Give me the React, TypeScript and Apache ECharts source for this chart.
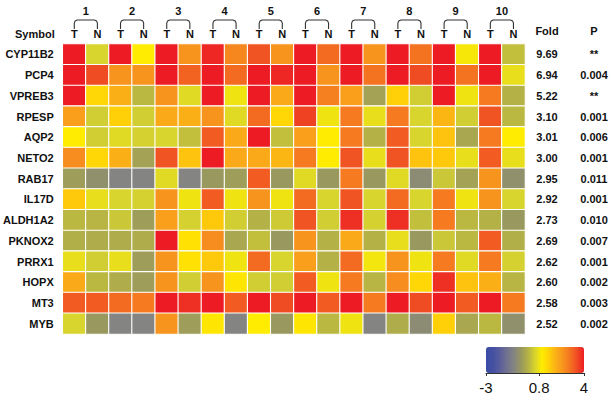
import React, { useEffect, useRef } from "react";
import * as echarts from "echarts";

const genes = ["CYP11B2", "PCP4", "VPREB3", "RPESP", "AQP2", "NETO2", "RAB17", "IL17D", "ALDH1A2", "PKNOX2", "PRRX1", "HOPX", "MT3", "MYB"];
const sampleLabels = ["T", "N", "T", "N", "T", "N", "T", "N", "T", "N", "T", "N", "T", "N", "T", "N", "T", "N", "T", "N"];
const pairLabels = ["1", "2", "3", "4", "5", "6", "7", "8", "9", "10"];
const foldValues = ["9.69", "6.94", "5.22", "3.10", "3.01", "3.00", "2.95", "2.92", "2.73", "2.69", "2.62", "2.60", "2.58", "2.52"];
const pValues = ["**", "0.004", "**", "0.001", "0.006", "0.001", "0.011", "0.001", "0.010", "0.007", "0.001", "0.002", "0.003", "0.002"];
const scaleTicks = [-3, 0.8, 4];

const cyp11b2 = [4, 0.5, 4, 1.0, 4, 2.5, 3.9, 2.7, 3.4, 2.5, 4, 3.1, 4, 2.5, 4, 3.0, 4, 0.9, 4, 0.2];
const pcp4 = [4, 3.5, 2.5, 2.5, 4, 3.2, 4, 3.1, 4, 3.9, 4, 2.5, 4, 3.0, 4, 3.5, 4, 3.0, 4, 0.7];
const vpreb3 = [4, 1.4, 2.0, 0.1, 2.5, 0.6, 4, 0.8, 4, 2.1, 4, 2.8, 2.3, -0.3, 1.5, 0.4, 4, 0.8, 2.9, 0.0];
const rpesp = [2.3, 0.4, 1.5, 0.4, 2.1, 2.0, 2.5, 0.6, 3.1, 1.4, 3.6, 0.8, 2.9, 0.7, 2.9, 0.5, 1.9, 0.4, 3.4, 0.1];
const aqp2 = [1.0, 0.4, 0.6, 0.45, 0.5, 0.2, 3.3, 2.1, 4, 0.2, 2.3, 1.0, 2.9, 0.0, 3.3, 0.5, 1.7, -0.2, 2.9, 1.0];
const neto2 = [2.6, 1.4, 2.0, -0.3, 3.4, 1.7, 4, 2.1, 2.1, 1.9, 2.9, 1.0, 3.4, 0.7, 3.4, 1.7, 1.6, 0.7, 3.3, 0.7];
const rab17 = [-0.4, -0.7, -1, -1, 0.6, -1, -0.5, -0.4, 3.3, -0.5, 0.6, -0.5, 2.9, -0.5, 0.6, -0.8, 0.3, -0.3, 2.5, -0.7];
const il17d = [1.6, 0.7, 0.5, 0.45, 2.5, 0.8, 3.3, 0.8, 2.5, 0.8, 3.1, 0.5, 3.4, 0.5, 3.1, 0.5, 2.9, 0.8, 2.5, 0.5];
const aldh1a2 = [0.1, 0.05, 0.3, -0.4, 2.3, 0.45, 1.6, 0.4, 0.0, 0.35, 3.4, 0.4, 3.8, 0.45, 3.8, 0.2, 2.9, 0.1, 0.0, -0.5];
const pknox2 = [-0.05, -0.1, -0.1, -0.1, 4, 1.2, 2.6, -0.2, 0.2, -0.5, 2.5, 0.0, 2.1, 0.0, 0.7, -0.5, 0.3, 0.1, 3.3, -0.05];
const prrx1 = [0.7, 0.4, 0.7, -0.4, 2.5, 1.2, 1.6, 0.8, 3.1, 0.5, 2.3, 0.0, 3.1, 0.85, 2.5, 0.8, 2.9, 0.6, 2.9, 0.45];
const hopx = [2.1, 0.1, -0.1, -0.4, 2.5, 0.4, 2.5, 1.1, 0.4, 0.4, 3.3, 0.8, 2.9, 0.05, 2.6, 1.4, 3.8, 1.7, 2.0, 0.05];
const mt3 = [3.3, 3.3, 3.1, 2.9, 4, 3.8, 4, 3.3, 4, 3.5, 4, 3.3, 4, 2.9, 4, 3.5, 4, 3.3, 4, 2.9];
const myb = [0.5, -0.5, -1, -1, 2.5, -0.4, 1.1, -1, 1.0, -0.5, 1.1, 0.1, 0.8, -1, -0.1, -0.8, 1.5, -0.2, 0.1, -0.7];

const matrix = [cyp11b2, pcp4, vpreb3, rpesp, aqp2, neto2, rab17, il17d, aldh1a2, pknox2, prrx1, hopx, mt3, myb];

const palette = [
  "#3A4BA6", "#4450A2", "#5A5E9C", "#727390", "#848482", "#99985E", "#B4B146", "#D8D52E",
  "#FFEC00", "#FFD008", "#FBAF17", "#F7941D", "#F47321", "#F04C23", "#ED1C24",
];

const FONT = "'Liberation Sans', Arial, sans-serif";
const TXT = "#111";

export default function App() {
  const ref = useRef<HTMLDivElement>(null);
  useEffect(() => {
    if (!ref.current) return;
    const chart = echarts.init(ref.current, null, { renderer: "svg" });
    const data: number[][] = [];
    matrix.forEach((row, r) => row.forEach((v, c) => data.push([c, r, v])));
    const bold = { fontFamily: FONT, fontWeight: "bold" as const, fontSize: 11, color: TXT };
    chart.setOption({
      animation: false,
      backgroundColor: "#fff",
      grid: [
        { left: 62, top: 44, width: 463, height: 290 },
        { left: 486, top: 347, width: 98, height: 26 },
      ],
      xAxis: [
        {
          type: "category", data: sampleLabels, position: "top", gridIndex: 0,
          axisLine: { show: false }, axisTick: { show: false },
          axisLabel: { ...bold, margin: 5, interval: 0 },
        },
        {
          type: "category", data: pairLabels, position: "top", gridIndex: 0, offset: 24,
          axisLine: { show: false }, axisTick: { show: false },
          axisLabel: { ...bold, margin: 4, interval: 0 },
        },
        {
          type: "value", gridIndex: 1, min: -3, max: 4, position: "bottom",
          splitLine: { show: false },
          axisLine: { show: true, lineStyle: { color: "#333", width: 1 } },
          axisTick: { show: true, length: 3, customValues: scaleTicks, lineStyle: { color: "#333" } },
          axisLabel: { customValues: scaleTicks, fontFamily: FONT, fontSize: 15, color: TXT, margin: 7, showMinLabel: true, showMaxLabel: true },
        },
      ],
      yAxis: [
        {
          type: "category", data: genes, inverse: true, gridIndex: 0,
          axisLine: { show: false }, axisTick: { show: false },
          axisLabel: { ...bold, margin: 9, interval: 0 },
        },
        {
          type: "category", data: foldValues, inverse: true, gridIndex: 0, position: "right",
          axisLine: { show: false }, axisTick: { show: false },
          axisLabel: { ...bold, margin: 22, align: "center", interval: 0 },
        },
        {
          type: "category", data: pValues, inverse: true, gridIndex: 0, position: "right",
          axisLine: { show: false }, axisTick: { show: false },
          axisLabel: { ...bold, margin: 69, align: "center", interval: 0 },
        },
        { type: "value", gridIndex: 1, show: false, min: 0, max: 1 },
      ],
      visualMap: {
        type: "continuous", min: -3, max: 4, dimension: 2, seriesIndex: 0,
        orient: "horizontal", calculable: false, hoverLink: false,
        left: 486, top: 347, padding: 0, itemWidth: 26, itemHeight: 98,
        text: ["", ""], showLabel: false,
        inRange: { color: palette },
      },
      series: [
        {
          type: "heatmap", xAxisIndex: 0, yAxisIndex: 0, data,
          itemStyle: { borderColor: "#fff", borderWidth: 1.1 },
          emphasis: { disabled: true },
        },
      ],
      graphic: [
        { type: "text", left: 15, top: 28, style: { text: "Symbol", ...bold, fill: TXT, font: `bold 11px ${FONT}` } },
        { type: "text", x: 547, y: 31, style: { text: "Fold", fill: TXT, font: `bold 11px ${FONT}`, align: "center", verticalAlign: "middle" } },
        { type: "text", x: 594, y: 31, style: { text: "P", fill: TXT, font: `bold 11px ${FONT}`, align: "center", verticalAlign: "middle" } },
      ],
    });

    // brackets joining each T/N pair, placed from the category axis scale
    const brackets: any[] = [];
    for (let p = 0; p < pairLabels.length; p++) {
      const x1 = chart.convertToPixel({ xAxisIndex: 0 }, sampleLabels.length ? 2 * p : 0) as number;
      const x2 = chart.convertToPixel({ xAxisIndex: 0 }, 2 * p + 1) as number;
      const top = 20, bot = 29, r = 3;
      brackets.push({
        type: "polyline",
        shape: {
          points: [
            [x1, bot], [x1, top + r], [x1 + 0.9, top + 0.9], [x1 + r, top],
            [x2 - r, top], [x2 - 0.9, top + 0.9], [x2, top + r], [x2, bot],
          ],
        },
        style: { stroke: "#333", lineWidth: 1.1, fill: null },
      });
    }
    chart.setOption({ graphic: [
      { type: "text", left: 15, top: 28, style: { text: "Symbol", fill: TXT, font: `bold 11px ${FONT}` } },
      { type: "text", x: 547, y: 31, style: { text: "Fold", fill: TXT, font: `bold 11px ${FONT}`, align: "center", verticalAlign: "middle" } },
      { type: "text", x: 594, y: 31, style: { text: "P", fill: TXT, font: `bold 11px ${FONT}`, align: "center", verticalAlign: "middle" } },
      ...brackets,
    ] }, { replaceMerge: ["graphic"] });

    return () => chart.dispose();
  }, []);
  return <div ref={ref} style={{ position: "fixed", left: 0, top: 0, width: 611, height: 402 }} />;
}
